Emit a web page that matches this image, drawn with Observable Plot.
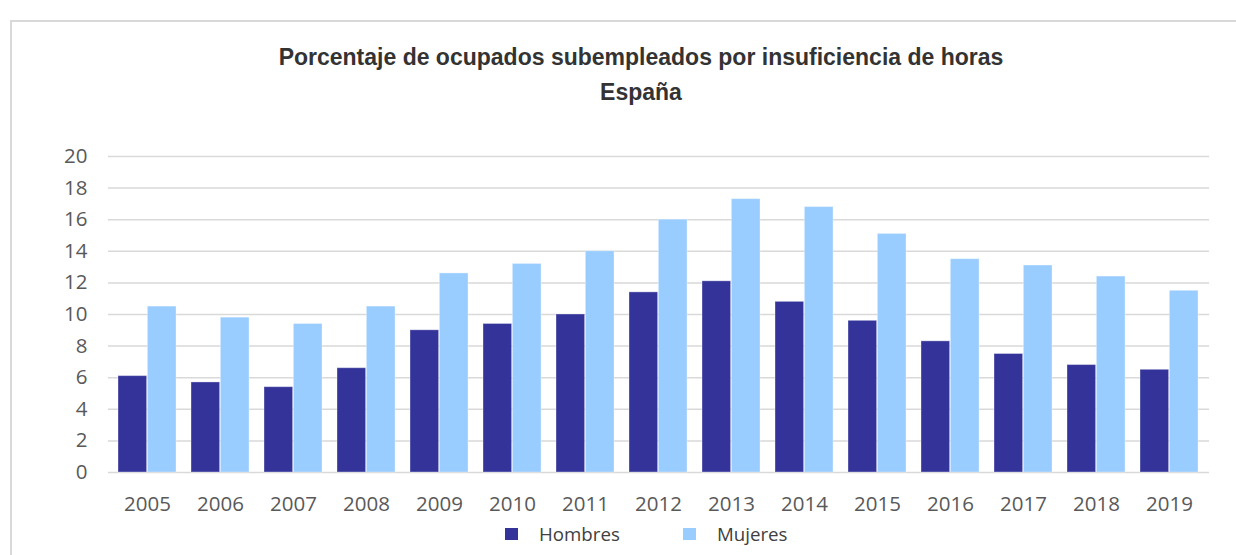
<!DOCTYPE html>
<html>
<head>
<meta charset="utf-8">
<script src="https://cdn.jsdelivr.net/npm/d3@7"></script>
<script src="https://cdn.jsdelivr.net/npm/@observablehq/plot@0.6"></script>
<style>
  html, body { margin: 0; padding: 0; background: #fff; }
  body { width: 1236px; height: 555px; position: relative; overflow: hidden; font-family: "Open Sans", "Liberation Sans", Arial, sans-serif; }
  #frame { position: absolute; left: 10px; top: 20px; width: 1300px; height: 600px; border-left: 2px solid #d9d9d9; border-top: 2px solid #d9d9d9; box-sizing: border-box; }
  #title { position: absolute; left: 191px; width: 900px; text-align: center; top: 40px; font-family: "Liberation Sans", Arial, sans-serif; font-weight: bold; font-size: 23px; color: #333; line-height: 35px; }
  #chart { position: absolute; left: 0; top: 130px; }
  #legend { position: absolute; top: 522px; left: 0; width: 1236px; height: 24px; font-size: 18.7px; color: #404040; }
  .sw { position: absolute; top: 6px; width: 13px; height: 12px; }
  .lbl { position: absolute; top: 0; line-height: 24px; white-space: nowrap; }
</style>
</head>
<body>
<div id="frame"></div>
<div id="title">Porcentaje de ocupados subempleados por insuficiencia de horas<br>España</div>
<div id="chart"></div>
<div id="legend"></div>
<script>
const years = ["2005","2006","2007","2008","2009","2010","2011","2012","2013","2014","2015","2016","2017","2018","2019"];
const hombres = [6.1, 5.7, 5.4, 6.6, 9.0, 9.4, 10.0, 11.4, 12.1, 10.8, 9.6, 8.3, 7.5, 6.8, 6.5];
const mujeres = [10.5, 9.8, 9.4, 10.5, 12.6, 13.2, 14.0, 16.0, 17.3, 16.8, 15.1, 13.5, 13.1, 12.4, 11.5];
const series = ["Hombres", "Mujeres"];
const colors = ["#333399", "#99CCFF"];
const yTicks = [0, 2, 4, 6, 8, 10, 12, 14, 16, 18, 20];

const W = 1236, H = 400, ML = 108, MR = 27, MT = 26, MB = 58;
const padInner = 0.2, padOuter = 0.1;
const step = (W - ML - MR) / (years.length - padInner + 2 * padOuter);
const half = step * (1 - padInner) / 2;

const dataH = years.map((y, i) => ({year: y, sex: series[0], value: hombres[i]}));
const dataM = years.map((y, i) => ({year: y, sex: series[1], value: mujeres[i]}));

const plot = Plot.plot({
  width: W, height: H,
  marginLeft: ML, marginRight: MR, marginTop: MT, marginBottom: MB,
  style: {fontFamily: "Open Sans, Liberation Sans, Arial, sans-serif", fontSize: "20.5px", color: "#595959", background: "transparent"},
  x: {domain: years, paddingInner: padInner, paddingOuter: padOuter, label: null, tickSize: 0, tickPadding: 24},
  y: {domain: [0, 20], ticks: yTicks, label: null, tickSize: 0, tickPadding: 21, tickFormat: d3.format("d")},
  color: {domain: series, range: colors},
  marks: [
    Plot.ruleY(yTicks, {stroke: "#d9d9d9", strokeWidth: 1.5}),
    Plot.barY(dataH, {x: "year", y: "value", fill: "sex", insetRight: half, stroke: "white", strokeOpacity: 0.35, strokeWidth: 1}),
    Plot.barY(dataM, {x: "year", y: "value", fill: "sex", insetLeft: half, stroke: "white", strokeOpacity: 0.35, strokeWidth: 1})
  ]
});
document.getElementById("chart").appendChild(plot);

const legend = document.getElementById("legend");
const swX = [505, 683];
const txX = [539, 717];
series.forEach((s, i) => {
  const sw = document.createElement("span");
  sw.className = "sw";
  sw.style.left = swX[i] + "px";
  sw.style.background = colors[i];
  legend.appendChild(sw);
  const t = document.createElement("span");
  t.className = "lbl";
  t.style.left = txX[i] + "px";
  t.textContent = s;
  legend.appendChild(t);
});
</script>
</body>
</html>
